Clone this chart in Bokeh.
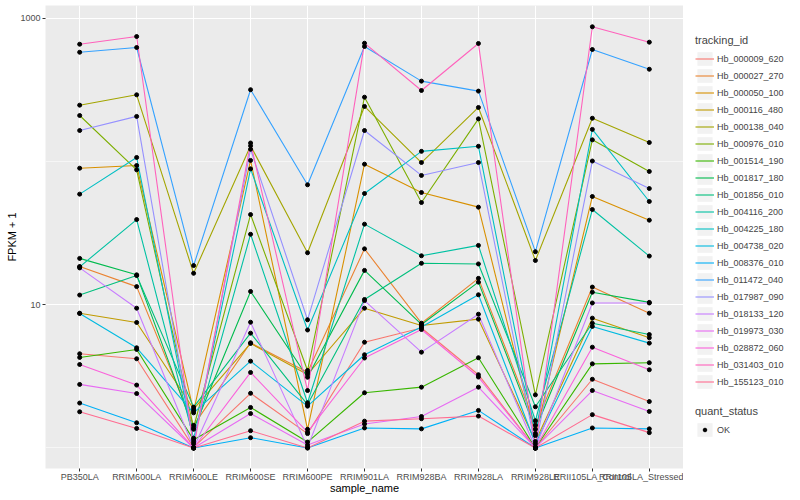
from bokeh.plotting import figure
from bokeh.models import Range1d, FixedTicker, NumeralTickFormatter, Legend, LegendItem
from bokeh.layouts import row
from bokeh.embed import file_html
from bokeh.resources import INLINE

samples = ["PB350LA", "RRIM600LA", "RRIM600LE", "RRIM600SE", "RRIM600PE", "RRIM901LA",
           "RRIM928BA", "RRIM928LA", "RRIM928LE", "RRII105LA_Control", "RRII105LA_Stressed"]

tracking_ids = ["Hb_000009_620", "Hb_000027_270", "Hb_000050_100", "Hb_000116_480", "Hb_000138_040",
                "Hb_000976_010", "Hb_001514_190", "Hb_001817_180", "Hb_001856_010", "Hb_004116_200",
                "Hb_004225_180", "Hb_004738_020", "Hb_008376_010", "Hb_011472_040", "Hb_017987_090",
                "Hb_018133_120", "Hb_019973_030", "Hb_028872_060", "Hb_031403_010", "Hb_155123_010"]

colors = ["#F8766D", "#EA8331", "#D89000", "#C09B00", "#A3A500", "#7CAE00", "#39B600", "#00BB4E",
          "#00BF7D", "#00C1A3", "#00BFC4", "#00BAE0", "#00B0F6", "#35A2FF", "#9590FF", "#C77CFF",
          "#E76BF3", "#FA62DB", "#FF62BC", "#FF6C91"]

# FPKM + 1 per sample (order of `samples`)
hb_000009_620 = [4.55, 4.20, 1.01, 2.41, 1.26, 5.48, 6.89, 3.25, 1.00, 3.02, 2.11]
hb_000027_270 = [18.5, 13.4, 1.44, 5.43, 3.38, 24.6, 7.44, 15.3, 1.44, 13.3, 8.74]
hb_000050_100 = [90.0, 94.0, 1.81, 102.0, 1.35, 96.0, 60.9, 48.1, 1.22, 57.1, 39.0]
hb_000116_480 = [8.74, 7.53, 1.87, 5.37, 3.26, 9.47, 7.17, 7.94, 1.11, 8.07, 5.89]
hb_000138_040 = [248.0, 293.0, 16.6, 129.0, 23.1, 243.0, 98.6, 239.0, 20.4, 201.0, 136.0]
hb_000976_010 = [210.0, 87.7, 1.39, 42.7, 3.48, 282.0, 51.8, 199.0, 2.35, 142.0, 85.4]
hb_001514_190 = [4.29, 4.88, 1.14, 1.92, 1.10, 2.43, 2.66, 4.27, 1.00, 3.87, 3.94]
hb_001817_180 = [21.1, 16.2, 1.35, 12.4, 3.12, 17.4, 7.29, 14.4, 1.35, 12.25, 10.4]
hb_001856_010 = [11.7, 16.0, 1.93, 6.34, 2.01, 10.9, 19.5, 19.3, 1.94, 7.44, 6.20]
hb_004116_200 = [18.4, 39.4, 1.17, 31.1, 2.07, 36.6, 22.0, 26.0, 1.55, 46.3, 21.9]
hb_004225_180 = [59.3, 107.0, 1.105, 89.1, 6.67, 59.9, 118.0, 128.0, 1.26, 168.0, 52.7]
hb_004738_020 = [8.70, 5.01, 1.76, 4.04, 1.96, 4.48, 7.00, 11.75, 1.07, 7.06, 5.40]
hb_008376_010 = [2.06, 1.50, 1.00, 1.18, 1.00, 1.38, 1.36, 1.83, 1.00, 1.38, 1.36]
hb_011472_040 = [581.0, 627.0, 18.8, 318.0, 68.9, 637.0, 365.0, 311.0, 23.5, 607.0, 442.0]
hb_017987_090 = [165.0, 207.0, 1.07, 122.0, 7.86, 165.0, 80.1, 98.6, 1.02, 101.0, 64.9]
hb_018133_120 = [18.1, 9.47, 1.00, 7.56, 1.01, 10.7, 4.67, 8.60, 1.00, 10.3, 10.3]
hb_019973_030 = [2.78, 2.40, 1.00, 1.74, 1.05, 1.47, 1.66, 2.66, 1.00, 2.52, 1.80]
hb_028872_060 = [3.83, 2.75, 1.00, 3.37, 1.29, 4.25, 6.72, 3.13, 1.00, 5.06, 3.52]
hb_031403_010 = [661.0, 748.0, 1.00, 135.0, 2.52, 672.0, 314.0, 669.0, 1.00, 875.0, 683.0]
hb_155123_010 = [1.79, 1.37, 1.00, 1.32, 1.00, 1.54, 1.60, 1.67, 1.00, 1.71, 1.28]

series = [hb_000009_620, hb_000027_270, hb_000050_100, hb_000116_480, hb_000138_040,
          hb_000976_010, hb_001514_190, hb_001817_180, hb_001856_010, hb_004116_200,
          hb_004225_180, hb_004738_020, hb_008376_010, hb_011472_040, hb_017987_090,
          hb_018133_120, hb_019973_030, hb_028872_060, hb_031403_010, hb_155123_010]

FONT = "Liberation Sans"
x_pos = list(range(len(samples)))

p = figure(width=683, height=500, output_backend="svg", toolbar_location=None,
           y_axis_type="log",
           x_range=Range1d(-0.6, len(samples) - 0.4),
           y_range=Range1d(0.719, 1232),
           min_border_left=45, min_border_right=0, min_border_top=5, min_border_bottom=32)
p.background_fill_color = "#EBEBEB"
p.border_fill_color = "white"
p.outline_line_color = None

p.xaxis.ticker = FixedTicker(ticks=x_pos)
p.xaxis.major_label_overrides = {i: s for i, s in enumerate(samples)}
p.yaxis.ticker = FixedTicker(ticks=[10, 1000], minor_ticks=[1, 100])
p.yaxis.formatter = NumeralTickFormatter(format="0")

for ax in (p.xaxis[0], p.yaxis[0]):
    ax.axis_line_color = None
    ax.major_tick_in = 0
    ax.major_tick_out = 3
    ax.major_tick_line_color = "#333333"
    ax.major_tick_line_width = 1
    ax.minor_tick_line_color = None
    ax.major_label_text_color = "#4D4D4D"
    ax.major_label_text_font = FONT
    ax.major_label_text_font_size = "9px"
    ax.axis_label_text_font = FONT
    ax.axis_label_text_font_size = "11px"
    ax.axis_label_text_font_style = "normal"
    ax.axis_label_text_color = "black"

p.yaxis.major_label_standoff = 1
p.yaxis.axis_label_standoff = -1
p.xaxis.major_label_standoff = 0
p.xaxis.axis_label_standoff = -3

p.xaxis.axis_label = "sample_name"
p.yaxis.axis_label = "FPKM + 1"

p.xgrid.grid_line_color = "white"
p.xgrid.grid_line_width = 1.1
p.ygrid.grid_line_color = "white"
p.ygrid.grid_line_width = 1.1
p.ygrid.minor_grid_line_color = "white"
p.ygrid.minor_grid_line_width = 0.55

for vals, c in zip(series, colors):
    p.line(x_pos, vals, line_color=c, line_width=1.1)

all_x = [x for vals in series for x in x_pos]
all_y = [v for vals in series for v in vals]
p.scatter(all_x, all_y, size=4, color="black")

# legend panel (legend proxies hold a single NaN so they draw only in the legend)
NAN = [float("nan")]
lf = figure(width=117, height=500, output_backend="svg", toolbar_location=None,
            x_range=Range1d(0, 1), y_range=Range1d(0, 1),
            x_axis_location=None, y_axis_location=None,
            min_border_left=0, min_border_right=0, min_border_top=5, min_border_bottom=32)
lf.grid.visible = False
lf.outline_line_color = None
lf.background_fill_color = "white"
lf.border_fill_color = "white"

bg = lf.rect(x=NAN, y=NAN, width=1, height=1, fill_color="#F2F2F2", line_color=None)
items = []
for tid, c in zip(tracking_ids, colors):
    r = lf.line(x=NAN, y=NAN, line_color=c, line_width=1.1)
    items.append(LegendItem(label=tid, renderers=[bg, r]))

common = dict(padding=0, margin=0, border_line_color=None, background_fill_alpha=0,
              label_text_font=FONT, label_text_font_size="9px", label_standoff=3,
              title_text_font=FONT, title_text_font_size="11px", title_text_font_style="normal",
              title_standoff=4, spacing=0)

leg1 = Legend(items=items, location=(12, 78), title="tracking_id",
              glyph_width=19, glyph_height=17, label_height=17, **common)
lf.add_layout(leg1)

leg2 = Legend(items=[LegendItem(label="OK", renderers=[bg])], location=(12, 30), title="quant_status",
              glyph_width=19, glyph_height=17, label_height=17, **common)
lf.add_layout(leg2)

dot = lf.scatter(x=NAN, y=NAN, size=4, color="black")
leg3 = Legend(items=[LegendItem(label=" ", renderers=[dot])], location=(17, 34),
              glyph_width=9, glyph_height=9, label_height=9, padding=0, margin=0, spacing=0,
              border_line_color=None, background_fill_alpha=0, label_text_font_size="9px")
lf.add_layout(leg3)

layout = row(p, lf)
open("out.html", "w").write(file_html(layout, INLINE))
